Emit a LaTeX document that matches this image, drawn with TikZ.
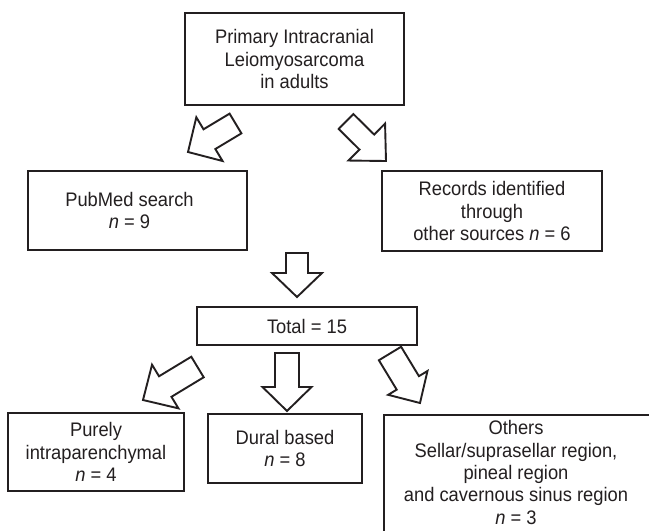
\documentclass[tikz,border=0pt]{standalone}
\usepackage{fontspec}
\setmainfont{Liberation Sans}[FakeStretch=0.935]
\usetikzlibrary{calc}
\definecolor{ink}{HTML}{231F20}
\newcommand\dfont{\fontsize{19.6}{22.3}\selectfont}
% block arrow: #1 tail coordinate, #2 tip coordinate, #3 half shaft width, #4 half head width, #5 head length
\newcommand\blockarrow[5]{%
  \coordinate (#1-hb) at ($(#2)!#5!(#1)$);
  \draw[barrow] ($(#1)!#3!90:(#2)$) -- ($(#1-hb)!#3!-90:(#1)$) -- ($(#1-hb)!#4!-90:(#1)$) -- (#2)
    -- ($(#1-hb)!#4!90:(#1)$) -- ($(#1-hb)!#3!90:(#1)$) -- ($(#1)!#3!-90:(#2)$) -- cycle;
}
\begin{document}
\begin{tikzpicture}[x=1pt,y=-1pt,
  box/.style={draw=ink, line width=1.9pt, inner sep=0pt, align=center, font=\dfont, text=ink},
  txt/.style={inner sep=0pt, align=center, font=\dfont, text=ink},
  barrow/.style={draw=ink, line width=1.9pt, fill=white, line join=miter}]
\useasboundingbox (0,0) rectangle (649,531);
\clip (0,0) rectangle (649,531);
\fill[white] (0,0) rectangle (649,531);

% boxes
\node[box, minimum width=219pt, minimum height=92pt] (top) at (294.5,59)
  {Primary Intracranial\\Leiomyosarcoma\\in adults};
\node[box, minimum width=219pt, minimum height=79pt] (pubmed) at (137.5,210.5) {};
\node[txt] (pubmedtxt) at ([xshift=-8pt]pubmed.center) {PubMed search\\{\itshape n} = 9};
\node[box, minimum width=220pt, minimum height=80pt] (records) at (492,211)
  {Records identified\\through\\other sources {\itshape n} = 6};
\node[box, minimum width=220pt, minimum height=38pt] (total) at (307,326) {Total = 15};
\node[box, minimum width=176pt, minimum height=78pt] (purely) at (96,452)
  {Purely\\intraparenchymal\\{\itshape n} = 4};
\node[box, minimum width=154pt, minimum height=69pt] (dural) at (285,448.5)
  {Dural based\\{\itshape n} = 8};
\node[box, anchor=north west, minimum width=268pt, minimum height=180pt] (others) at (383,414) {};
\node[txt] (otherstxt) at (516,472.5)
  {Others\\Sellar/suprasellar region,\\pineal region\\and cavernous sinus region\\{\itshape n} = 3};

% arrow end points
\coordinate (a1) at (235.5,123.5); \coordinate (a1p) at (188,152);
\coordinate (a2) at (346,121.5);   \coordinate (a2p) at (386,161);
\coordinate (a3) at (297,253);     \coordinate (a3p) at (297,297);
\coordinate (a4) at (197.5,367);   \coordinate (a4p) at (143,400);
\coordinate (a5) at (287,353);     \coordinate (a5p) at (287,411);
\coordinate (a6) at (390,353.5);   \coordinate (a6p) at (420,403);

\blockarrow{a1}{a1p}{11.5pt}{25.5pt}{25pt}
\blockarrow{a2}{a2p}{10.5pt}{26pt}{27pt}
\blockarrow{a3}{a3p}{11pt}{25pt}{24pt}
\blockarrow{a4}{a4p}{12pt}{25.5pt}{26pt}
\blockarrow{a5}{a5p}{12pt}{24.5pt}{24pt}
\blockarrow{a6}{a6p}{13pt}{23pt}{23.5pt}
\end{tikzpicture}
\end{document}
